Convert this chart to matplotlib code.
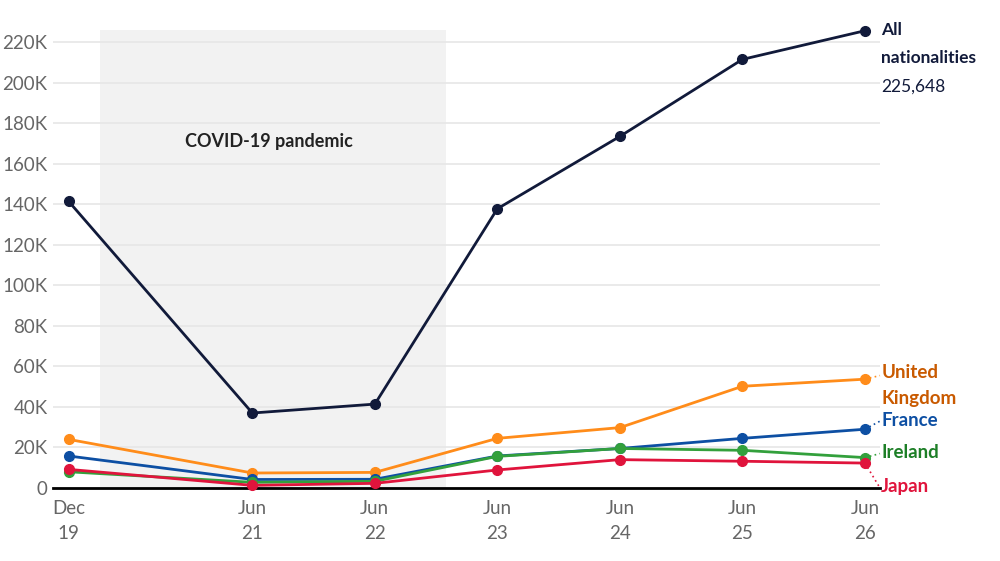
import matplotlib
matplotlib.use("Agg")
import matplotlib.pyplot as plt
from matplotlib.ticker import FuncFormatter

# Data
dates = [2019.917, 2021.417, 2022.417, 2023.417, 2024.417, 2025.417, 2026.417]
tick_labels = ["Dec\n19", "Jun\n21", "Jun\n22", "Jun\n23", "Jun\n24", "Jun\n25", "Jun\n26"]
all_nat = [141500, 37000, 41400, 137800, 173500, 211500, 225648]
uk = [24000, 7400, 7700, 24500, 29800, 50200, 53700]
france = [15800, 4200, 4300, 15800, 19500, 24500, 29000]
ireland = [8000, 2800, 3300, 15600, 19500, 18600, 15000]
japan = [9200, 1300, 2300, 8900, 14000, 13200, 12300]
pandemic_start, pandemic_end = 2020.17, 2023.0

plt.rcParams['font.family'] = ['Lato', 'DejaVu Sans']

fig = plt.figure(figsize=(10, 5.61), dpi=100)
ax = fig.add_axes([0.053, 1 - 488/561, 0.88 - 0.053, (488 - 30)/561])

ax.axvspan(pandemic_start, pandemic_end, color='#f2f2f2', zorder=0, lw=0)
ax.text((pandemic_start + pandemic_end)/2 - 0.03, 171000, "COVID-19 pandemic",
        ha='center', va='center', fontsize=13, fontweight='bold', color='#222222')

series = [
    (all_nat, '#111a3a'),
    (uk, '#ff8c1a'),
    (france, '#0d4fa3'),
    (ireland, '#33a03c'),
    (japan, '#e0143c'),
]
for vals, c in series:
    ax.plot(dates, vals, color=c, lw=2, marker='o', ms=7, clip_on=False, zorder=3)

ax.set_xlim(2019.79, 2026.54)
ax.set_ylim(0, 226000)
ax.set_yticks(range(0, 220001, 20000))
ax.yaxis.set_major_formatter(FuncFormatter(lambda v, p: "0" if v == 0 else f"{int(v/1000)}K"))
ax.set_xticks(dates)
ax.set_xticklabels(tick_labels, linespacing=1.55)
ax.tick_params(axis='both', length=0, labelsize=13.5, labelcolor='#666666')
ax.tick_params(axis='x', pad=9)
ax.tick_params(axis='y', pad=4)
ax.grid(axis='y', color='#e6e6e6', lw=1.2, zorder=0)
ax.set_axisbelow(True)
for s in ['top', 'right', 'left']:
    ax.spines[s].set_visible(False)
ax.spines['bottom'].set_color('black')
ax.spines['bottom'].set_linewidth(2)
ax.spines['bottom'].set_zorder(2)

xe = dates[-1]
xl = 2026.55
# All nationalities label
ax.text(xl, 226000, "All", ha='left', va='center', fontsize=12.5,
        fontweight='bold', color='#111a3a', clip_on=False)
ax.text(xl, 212000, "nationalities", ha='left', va='center', fontsize=12.5,
        fontweight='bold', color='#111a3a', clip_on=False)
ax.text(xl, 198300, "225,648", ha='left', va='center', fontsize=12.5,
        color='#111a3a', clip_on=False)

label_pos = [(uk, [57200, 44400], ['United', 'Kingdom'], '#c95a00', '#ff8c1a', 55500),
             (france, [33500], ['France'], '#0d4fa3', '#0d4fa3', 33000),
             (ireland, [17300], ['Ireland'], '#1d7f27', '#33a03c', 17000),
             (japan, [500], ['Japan'], '#e0143c', '#e0143c', 0)]
for vals, tys, txts, tc, lc, ly in label_pos:
    ax.plot([xe, xl - 0.01], [vals[-1], ly], color=lc, lw=1.2, ls=(0, (1, 2)),
            clip_on=False, zorder=2)
    for ty, txt in zip(tys, txts):
        ax.text(xl, ty, txt, ha='left', va='center', fontsize=13.5, fontweight='bold',
                color=tc, clip_on=False)

fig.savefig("out.png", dpi=100)
